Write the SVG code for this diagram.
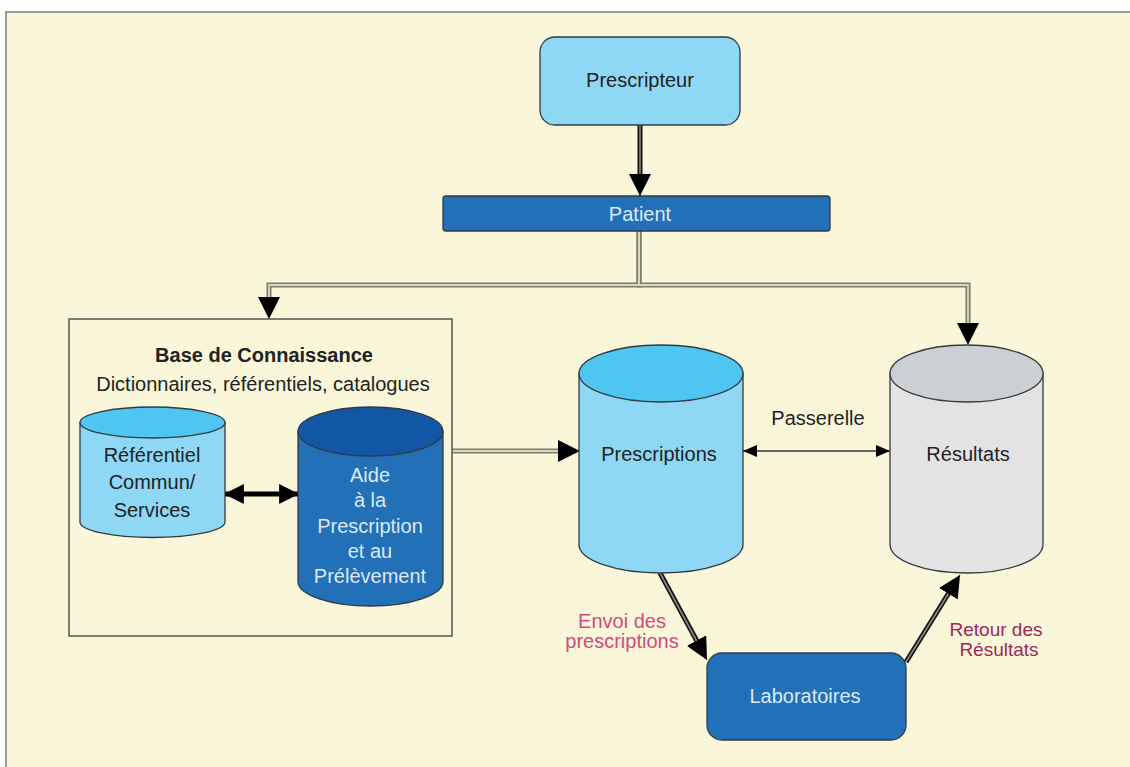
<svg xmlns="http://www.w3.org/2000/svg" width="1130" height="767" viewBox="0 0 1130 767">
<style>
text{font-family:"Liberation Sans",Arial,sans-serif;font-size:20px;text-anchor:middle;dominant-baseline:central;fill:#222}
.node{stroke:#333a40;stroke-width:1.3}
.light{fill:#dbe9f7}
.pink{fill:#d24a7e}
.plum{fill:#9a2a58;font-size:19px}
.outerG{fill:none;stroke:#7e7c68;stroke-width:5}
.innerG{fill:none;stroke:#dcd9c2;stroke-width:1.8}
.outerK{fill:none;stroke:#111;stroke-width:5}
.innerK{fill:none;stroke:#8a8a80;stroke-width:1.6}
</style>
<defs>
<marker id="ah" markerUnits="userSpaceOnUse" markerWidth="22" markerHeight="22" viewBox="0 0 20 20" refX="20" refY="10" orient="auto"><path d="M0,0 L20,10 L0,20 z" fill="#000"/></marker>
<marker id="ahm" markerUnits="userSpaceOnUse" markerWidth="20" markerHeight="20" viewBox="0 0 18 18" refX="17" refY="9" orient="auto-start-reverse"><path d="M0,0 L18,9 L0,18 z" fill="#000"/></marker>
<marker id="ahs" markerUnits="userSpaceOnUse" markerWidth="14" markerHeight="12" viewBox="0 0 13 11" refX="13" refY="5.5" orient="auto-start-reverse"><path d="M0,0 L13,5.5 L0,11 z" fill="#000"/></marker>
</defs>
<rect x="0" y="0" width="1130" height="767" fill="#fff"/>
<rect x="6" y="12" width="1140" height="770" fill="#faf6da" stroke="#9a9a94" stroke-width="2"/>

<g id="connectors">
  <path class="outerK" d="M640,125 V178"/>
  <path class="innerK" d="M640,125 V196" marker-end="url(#ah)"/>
  <path class="outerG" d="M639,231 V285 H269 V300"/>
  <path class="outerG" d="M639,231 V285 H968 V327"/>
  <path class="innerG" d="M639,231 V285 H269 V319" marker-end="url(#ah)"/>
  <path class="innerG" d="M639,231 V285 H968 V345" marker-end="url(#ah)"/>
  <path class="outerG" d="M452,451 H562"/>
  <path class="innerG" d="M452,451 H580" marker-end="url(#ah)"/>
  <path d="M225,494 H298" stroke="#000" stroke-width="5" fill="none" marker-start="url(#ahm)" marker-end="url(#ahm)"/>
  <path d="M743,451 H890" stroke="#333" stroke-width="1.5" fill="none" marker-start="url(#ahs)" marker-end="url(#ahs)"/>
  <path class="outerK" d="M660,573 L698,643"/>
  <path class="innerK" d="M660,573 L707,660" marker-end="url(#ah)"/>
  <path class="outerK" d="M906,662 L950,591"/>
  <path class="innerK" d="M906,662 L960,575" marker-end="url(#ah)"/>
  <text x="818" y="418">Passerelle</text>
  <text class="pink" x="622" y="621">Envoi des</text>
  <text class="pink" x="622" y="641">prescriptions</text>
  <text class="plum" x="996" y="629">Retour des</text>
  <text class="plum" x="999" y="649">Résultats</text>
</g>

<g id="prescripteur">
  <rect class="node" x="540" y="37" width="200" height="88" rx="15" fill="#8ed8f6"/>
  <text x="640" y="80">Prescripteur</text>
</g>

<g id="patient">
  <rect class="node" x="443" y="196" width="387" height="35" rx="3" fill="#2170b8"/>
  <text class="light" x="640" y="214">Patient</text>
</g>

<g id="base">
  <rect x="69" y="319" width="383" height="317" fill="none" stroke="#555550" stroke-width="1.5"/>
  <text x="264" y="355" font-weight="bold">Base de Connaissance</text>
  <text x="263" y="384">Dictionnaires, référentiels, catalogues</text>
</g>

<g id="referentiel">
  <path class="node" d="M80,422.5 V522 A72.5,15.5 0 0 0 225,522 V422.5 Z" fill="#8ed8f6"/>
  <ellipse class="node" cx="152.5" cy="422.5" rx="72.5" ry="15.5" fill="#4ec6f1"/>
  <text x="152" y="455">Référentiel</text>
  <text x="152" y="482">Commun/</text>
  <text x="152" y="510">Services</text>
</g>

<g id="aide">
  <path class="node" d="M298,431.5 V581.5 A72.5,24.5 0 0 0 443,581.5 V431.5 Z" fill="#2170b8"/>
  <ellipse class="node" cx="370.5" cy="431.5" rx="72.5" ry="24.5" fill="#1256a6"/>
  <text class="light" x="370" y="475">Aide</text>
  <text class="light" x="370" y="500">à la</text>
  <text class="light" x="370" y="526">Prescription</text>
  <text class="light" x="370" y="551">et au</text>
  <text class="light" x="370" y="576">Prélèvement</text>
</g>

<g id="prescriptions">
  <path class="node" d="M579,373.5 V544.5 A82,28.5 0 0 0 743,544.5 V373.5 Z" fill="#8ed8f6"/>
  <ellipse class="node" cx="661" cy="373.5" rx="82" ry="28.5" fill="#4ec6f1"/>
  <text x="659" y="454">Prescriptions</text>
</g>

<g id="resultats">
  <path class="node" d="M890,373.5 V544.5 A76.5,28.5 0 0 0 1043,544.5 V373.5 Z" fill="#e3e3e3"/>
  <ellipse class="node" cx="966.5" cy="373.5" rx="76.5" ry="28.5" fill="#cdd0d2"/>
  <text x="968" y="454">Résultats</text>
</g>

<g id="laboratoires">
  <rect class="node" x="707" y="653" width="199" height="87" rx="15" fill="#2170b8"/>
  <text class="light" x="805" y="696">Laboratoires</text>
</g>
</svg>
